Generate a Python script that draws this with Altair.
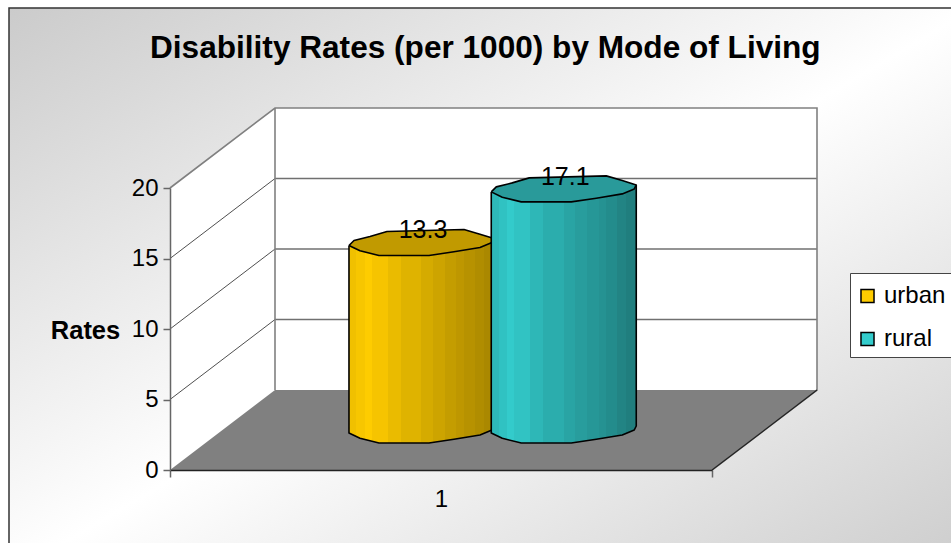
import altair as alt
import numpy as np
import pandas as pd

TITLE = "Disability Rates (per 1000) by Mode of Living"
SERIES = ["urban", "rural"]
VALUES = [13.3, 17.1]
VALUE_LABELS = ["13.3", "17.1"]
SWATCHES = ["#FFCC00", "#33CCCC"]
CAP_COLORS = ["#C19A00", "#299A9A"]
Y_TICKS = [0, 5, 10, 15, 20]
CATEGORY_LABEL = "1"

FONT = "Liberation Sans"

# Oblique projection: the category axis runs 0..1 over 542 px, the value axis
# gets 14.1 px per unit, and full depth shifts a point up and to the right.
PX_X = 542.0
PX_Y = 14.1
DEPTH_X = 105 / PX_X
DEPTH_Y = 80 / PX_Y
x_scale = alt.Scale(domain=[0, 1], range=[170, 712], nice=False, zero=False)
y_scale = alt.Scale(domain=[0, 20], range=[470, 188], nice=False, zero=False)

# Cylinder centres on the category axis, at half depth.
CENTRES = [0.3662, 0.6287]

# Outline of the faceted cap in pixels around its centre.
CAP_BACK = [(-72, 3), (-67, -2), (-51, -6), (-34, -11), (43, -13), (59, -8.3), (73, -4)]
CAP_FRONT = [(-72, 3), (-61, 8.3), (-42, 13), (8, 13), (33, 9.3), (59, 5), (71, 0), (73, -4)]
CAP_XS = sorted({p[0] for p in CAP_BACK} | {p[0] for p in CAP_FRONT})


def edge(points):
    xs, ys = zip(*points)
    return np.interp(CAP_XS, xs, ys)


back_edge = edge(CAP_BACK)
front_edge = edge(CAP_FRONT)


def px(c, v, dx=0.0, dy=0.0):
    """Offset a point on the half-depth plane by a few pixels, in scale units."""
    return c + 0.5 * DEPTH_X + dx / PX_X, v + 0.5 * DEPTH_Y - dy / PX_Y


# Left edges of the vertical facets, as fractions of the cylinder's width.
FACETS = [0, 0.05, 0.11, 0.16, 0.27, 0.36, 0.5, 0.58, 0.66, 0.74, 0.79, 0.87, 0.93, 1]


def shade(anchors):
    """Hard-edged stops: each facet takes one flat colour from the anchor ramp."""
    offsets, rgb = zip(*anchors)
    channels = np.array([[int(c[i:i + 2], 16) for i in (1, 3, 5)] for c in rgb], dtype=float)
    stops = []
    for left, right in zip(FACETS[:-1], FACETS[1:]):
        mid = (left + right) / 2
        r, g, b = (int(round(np.interp(mid, offsets, channels[:, k]))) for k in range(3))
        color = f"#{r:02X}{g:02X}{b:02X}"
        stops += [alt.GradientStop(offset=left, color=color),
                  alt.GradientStop(offset=right, color=color)]
    return alt.Gradient(gradient="linear", x1=0, x2=1, y1=0, y2=0, stops=stops)


BODY_FILLS = [
    shade([(0, "#EDBE00"), (0.14, "#FFCC00"), (0.3, "#EBBC00"),
           (0.55, "#D4AA00"), (0.78, "#BC9600"), (1, "#A68500")]),
    shade([(0, "#2DB5B5"), (0.14, "#33CCCC"), (0.3, "#2EB8B8"),
           (0.55, "#29A3A3"), (0.8, "#248F8F"), (1, "#1F7A7A")]),
]

# Chart panel behind everything, with the diagonal grey-white-grey wash.
panel_fill = alt.Gradient(
    gradient="linear", x1=0, y1=0, x2=1, y2=1,
    stops=[alt.GradientStop(offset=0, color="#CBCBCB"),
           alt.GradientStop(offset=0.5, color="#FFFFFF"),
           alt.GradientStop(offset=1, color="#CBCBCB")],
)
one = pd.DataFrame({"k": [0]})
panel = alt.Chart(one).mark_rect(fill=panel_fill, stroke="#333333", strokeWidth=1.5).encode(
    x=alt.value(9), x2=alt.value(975), y=alt.value(8), y2=alt.value(575)
)
legend_box = alt.Chart(one).mark_rect(fill="#FFFFFF", stroke="#444444", strokeWidth=1).encode(
    x=alt.value(850.5), x2=alt.value(975), y=alt.value(273.5), y2=alt.value(357.5)
)

# Walls and floor of the box.
X_ENC = alt.X("x:Q", scale=x_scale, axis=alt.Axis(
    values=[0, 0.5, 1], title=None, offset=-73, zindex=1,
    labelExpr=f"datum.value == 0.5 ? '{CATEGORY_LABEL}' : ''",
    labelFont=FONT, labelFontSize=24, labelColor="#000000", labelPadding=10, labelAngle=0,
    tickSize=7, tickWidth=1.5, tickColor="#666666",
    tickOpacity={"expr": "datum.value == 0.5 ? 0 : 1"},
    domainColor="#222222", domainWidth=1.5, grid=False,
))
Y_ENC = alt.Y("y:Q", scale=y_scale, axis=alt.Axis(
    values=Y_TICKS, title="Rates", offset=-170, zindex=1,
    titleFont=FONT, titleFontSize=25.5, titleFontWeight="bold", titleColor="#000000",
    titleAngle=0, titleAlign="center", titleBaseline="middle", titleX=-85, titleY=330,
    labelFont=FONT, labelFontSize=24, labelColor="#000000", labelPadding=5,
    tickSize=7, tickWidth=1.5, tickColor="#666666",
    domainColor="#666666", domainWidth=1.5, grid=False,
))
Y2_ENC = alt.Y2("y2:Q")

side_wall = alt.Chart(pd.DataFrame({
    "x": [0, DEPTH_X], "y": [20, 20 + DEPTH_Y], "y2": [0, DEPTH_Y],
})).mark_area(color="#FFFFFF", orient="vertical", interpolate="linear").encode(X_ENC, Y_ENC, Y2_ENC)

back_wall = alt.Chart(pd.DataFrame({
    "x": [DEPTH_X, 1 + DEPTH_X], "y": [20 + DEPTH_Y] * 2, "y2": [DEPTH_Y] * 2,
})).mark_area(color="#FFFFFF", orient="vertical", interpolate="linear").encode(X_ENC, Y_ENC, Y2_ENC)

floor = alt.Chart(pd.DataFrame({
    "x": [0, DEPTH_X, 1, 1 + DEPTH_X],
    "y": [0, DEPTH_Y, DEPTH_Y, DEPTH_Y],
    "y2": [0, 0, 0, DEPTH_Y],
})).mark_area(color="#808080", orient="vertical", interpolate="linear").encode(X_ENC, Y_ENC, Y2_ENC)

# Gridlines: thin black across the side wall, grey across the back wall.
side_grid = alt.Chart(pd.DataFrame({
    "x": [0.0] * 3, "x2": [DEPTH_X] * 3,
    "y": Y_TICKS[1:4], "y2": [t + DEPTH_Y for t in Y_TICKS[1:4]],
})).mark_rule(color="#222222", strokeWidth=0.8).encode(X_ENC, alt.X2("x2:Q"), Y_ENC, Y2_ENC)

back_grid = alt.Chart(pd.DataFrame({
    "x": [DEPTH_X] * 3, "x2": [1 + DEPTH_X] * 3,
    "y": [t + DEPTH_Y for t in Y_TICKS[1:4]], "y2": [t + DEPTH_Y for t in Y_TICKS[1:4]],
})).mark_rule(color="#707070", strokeWidth=1.3).encode(X_ENC, alt.X2("x2:Q"), Y_ENC, Y2_ENC)

# Grey edges of the box.
box_edges = alt.Chart(pd.DataFrame({
    "i": [0, 1, 2, 3, 4],
    "x": [0, DEPTH_X, 1 + DEPTH_X, 1 + DEPTH_X, 1],
    "y": [20, 20 + DEPTH_Y, 20 + DEPTH_Y, DEPTH_Y, 0],
})).mark_line(color="#808080", strokeWidth=1.6).encode(X_ENC, Y_ENC, order="i:Q")
back_corner = alt.Chart(pd.DataFrame({
    "i": [0, 1], "x": [DEPTH_X, DEPTH_X], "y": [20 + DEPTH_Y, DEPTH_Y],
})).mark_line(color="#808080", strokeWidth=1.6).encode(X_ENC, Y_ENC, order="i:Q")
floor_edge = alt.Chart(pd.DataFrame({
    "i": [0, 1], "x": [1, 1 + DEPTH_X], "y": [0, DEPTH_Y],
})).mark_line(color="#222222", strokeWidth=1.2).encode(X_ENC, Y_ENC, order="i:Q")

# Cylinders, the rear-left one first so that its neighbour overlaps it.
cylinders = []
for c, v, body_fill, cap_fill in zip(CENTRES, VALUES, BODY_FILLS, CAP_COLORS):
    rows_body, rows_cap = [], []
    for dx, bk, fr in zip(CAP_XS, back_edge, front_edge):
        x, top = px(c, v, dx, fr)
        _, bottom = px(c, 0, dx, fr)
        _, cap_back = px(c, v, dx, bk)
        rows_body.append({"x": x, "y": top, "y2": bottom})
        rows_cap.append({"x": x, "y": cap_back, "y2": top})
    body = alt.Chart(pd.DataFrame(rows_body)).mark_area(
        fill=body_fill, orient="vertical", interpolate="linear"
    ).encode(X_ENC, Y_ENC, Y2_ENC)
    cap = alt.Chart(pd.DataFrame(rows_cap)).mark_area(
        color=cap_fill, orient="vertical", interpolate="linear"
    ).encode(X_ENC, Y_ENC, Y2_ENC)

    # Stroke: cap ring plus the left side, lower rim and right side.
    ring = CAP_BACK + CAP_FRONT[::-1]
    silhouette = [(CAP_FRONT[0], v)] + [(p, 0) for p in CAP_FRONT] + [(CAP_FRONT[-1], v)]
    rows_line = []
    for i, p in enumerate(ring):
        x, y = px(c, v, p[0], p[1])
        rows_line.append({"part": "ring", "i": i, "x": x, "y": y})
    for i, (p, level) in enumerate(silhouette):
        x, y = px(c, level, p[0], p[1])
        rows_line.append({"part": "side", "i": i, "x": x, "y": y})
    outline = alt.Chart(pd.DataFrame(rows_line)).mark_line(
        color="#000000", strokeWidth=1.6, strokeJoin="round"
    ).encode(X_ENC, Y_ENC, detail="part:N", order="i:Q")
    cylinders += [body, cap, outline]

labels = alt.Chart(pd.DataFrame({
    "x": [px(c, 0)[0] for c in CENTRES],
    "y": [px(0, v)[1] for v in VALUES],
    "t": VALUE_LABELS,
})).mark_text(font=FONT, fontSize=25, color="#000000", dy=-12, dx=2).encode(X_ENC, Y_ENC, text="t:N")

# Point layer under the panel; it exists to feed the legend.
legend_seed = alt.Chart(pd.DataFrame({"series": SERIES})).mark_square(opacity=1).encode(
    x=alt.value(100), y=alt.value(100),
    color=alt.Color("series:N", scale=alt.Scale(domain=SERIES, range=SWATCHES), legend=alt.Legend(
        orient="none", legendX=855.5, legendY=284, title=None, padding=0,
        symbolType="square", symbolSize=170, symbolStrokeColor="#000000", symbolStrokeWidth=1.5,
        labelFont=FONT, labelFontSize=24, labelColor="#000000", rowPadding=19, labelOffset=4.5,
    )),
)

chart = alt.layer(
    legend_seed, panel, legend_box, side_wall, back_wall, floor, side_grid, back_grid,
    back_corner, box_edges, floor_edge, *cylinders, labels,
).properties(
    width=951, height=543, padding=0,
    autosize=alt.AutoSizeParams(type="none"),
    title=alt.TitleParams(
        TITLE, font=FONT, fontSize=31.6, fontWeight="bold", color="#000000",
        anchor="start", frame="group", dx=150, dy=65, offset=0,
    ),
).configure_view(stroke=None)

chart.save("out.html", embed_options={"renderer": "svg", "actions": False})
